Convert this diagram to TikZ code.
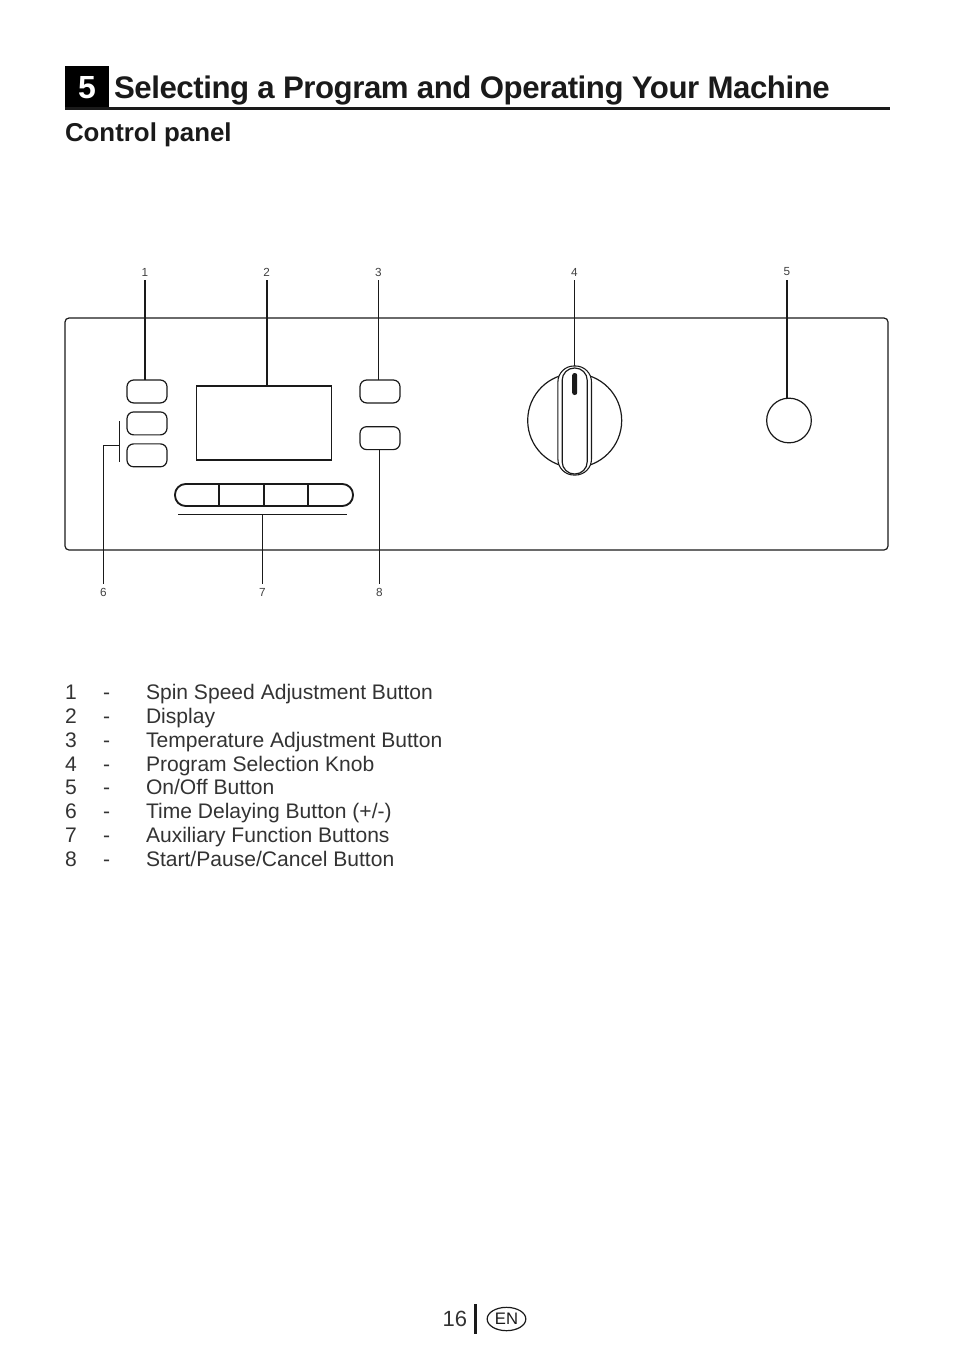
\documentclass[tikz,border=0pt]{standalone}
\usepackage{fontspec}
\setmainfont{Liberation Sans}
\newfontfamily\tightfont[LetterSpace=-1.4]{Liberation Sans}
\usepackage{xcolor}
\usetikzlibrary{positioning,shapes.geometric}
\definecolor{PanelInk}{HTML}{1A1A1A}

\begin{document}
\begin{tikzpicture}[x=0.75pt, y=-0.75pt,
                    every node/.style={inner sep=0pt, outer sep=0pt, text=PanelInk},
                    every path/.style={draw=PanelInk, line width=0.8pt},
                    heading/.style={anchor=base west, font=\tightfont\bfseries\fontsize{23.4}{28}\selectfont},
                    subheading/.style={anchor=base west, font=\bfseries\fontsize{19.4}{23}\selectfont},
                    tag/.style={inner sep=3pt, font=\fontsize{8.8}{10}\selectfont, text=black!75},
                    pushbtn/.style={draw, line width=0.9pt, rounded corners=5pt,
                                    minimum width=30pt, minimum height=17.2pt},
                    legend/.style={anchor=base west, text=black!80, font=\fontsize{15.8}{19}\selectfont}]
\useasboundingbox[draw=none] (0,0) rectangle (954,1354);
% heading
\node[minimum width=33pt, minimum height=32.5pt, fill=black, draw=none, anchor=north west,
      text=white, font=\bfseries\fontsize{24}{28}\selectfont] (secbox) at (65,65.5) {5};
\node[heading] (title) at (114,98) {Selecting a Program and Operating Your Machine};
\node[subheading] (subtitle) at (65,141) {Control panel};
\coordinate (ruleend) at (890,108);
\draw[line width=2.2pt] (secbox.south west) -- (secbox.south west -| ruleend);
% panel
\node[draw, line width=0.9pt, rounded corners=3pt, anchor=north west,
      minimum width=617.25pt, minimum height=174pt] (panel) at (65,318) {};
\node[pushbtn, anchor=north west] (btnspin) at (127,380) {};
\node[pushbtn, below=6.75pt of btnspin] (btnplus) {};
\node[pushbtn, below=6.75pt of btnplus] (btnminus) {};
\node[draw, line width=1.1pt, anchor=north west, minimum width=101pt, minimum height=55.5pt] (display) at (196.7,386) {};
\node[pushbtn, anchor=north west] (btntemp) at (360,380) {};
\node[pushbtn, below=17.8pt of btntemp] (btnstart) {};
\node[draw, line width=1.4pt, rounded corners=8pt, anchor=north west,
      minimum width=133.5pt, minimum height=16.5pt] (auxbar) at (175,484) {};
\draw[line width=1.7pt] (219,484) -- (219,506);
\foreach \x in {264,308}
  \draw[line width=1.3pt] (\x,484) -- (\x,506);
% knob
\node[draw, circle, line width=0.9pt, minimum size=70.5pt] (knob) at (574.7,420.5) {};
\node[draw, fill=white, line width=0.8pt, rounded corners=12pt,
      minimum width=25.2pt, minimum height=81.8pt] (grip) at (574.7,420.5) {};
\node[draw, line width=0.9pt, rounded corners=9.2pt,
      minimum width=18.8pt, minimum height=79.5pt] (gripin) at (574.7,421) {};
\node[fill=PanelInk, draw=none, rounded corners=1.8pt, minimum width=3.8pt, minimum height=16.5pt,
      anchor=north] (slot) at (574.7,373) {};
\node[draw, circle, line width=0.9pt, minimum size=33.5pt] (power) at (789,420.5) {};
% callout numbers
\node[tag] (lblone) at (145,272) {1};
\node[tag] (lbltwo) at (266.7,272) {2};
\node[tag] (lblthree) at (378.5,272) {3};
\node[tag] (lblfour) at (574.5,272) {4};
\node[tag] (lblfive) at (787,272) {5};
\node[tag] (lblsix) at (103.5,592) {6};
\node[tag] (lblseven) at (262.5,592) {7};
\node[tag] (lbleight) at (379.5,592) {8};
\draw[line width=1.3pt] (lblone.south) -- (lblone.south |- btnspin.north);
\draw[line width=1.3pt] (lbltwo.south) -- (lbltwo.south |- display.north);
\draw (lblthree.south) -- (lblthree.south |- btntemp.north);
\draw (lblfour.south) -- (lblfour.south |- grip.north);
\draw[line width=1pt] (lblfive.south) -- (lblfive.south |- power.north);
\coordinate (sixtop) at (119.5,421);
\coordinate (sixbot) at (119.5,462);
\coordinate (sixmid) at (119.5,445.5);
\coordinate (sevenleft) at (178,514.5);
\coordinate (sevenright) at (347,514.5);
\draw (sixtop) -- (sixbot);
\draw (lblsix.north) |- (sixmid);
\draw (sevenleft) -- (sevenright);
\draw (lblseven.north) -- (lblseven.north |- sevenleft);
\draw (lbleight.north) -- (lbleight.north |- btnstart.south);
% legend
\foreach \n/\t/\y in {1/{Spin Speed Adjustment Button}/699, 2/{Display}/723, 3/{Temperature Adjustment Button}/747,
                      4/{Program Selection Knob}/771, 5/{On/Off Button}/794, 6/{Time Delaying Button (+/-)}/818,
                      7/{Auxiliary Function Buttons}/842, 8/{Start/Pause/Cancel Button}/866} {
  \node[legend] (num\n) at (65,\y) {\n};
  \node[legend] (dash\n) at (103,\y) {-};
  \node[legend] (text\n) at (146,\y) {\t};
}
% page number
\node[anchor=base east, text=black!80, font=\fontsize{16.5}{19}\selectfont] (pageno) at (467,1326) {16};
\node[fill=PanelInk, draw=none, minimum width=2.4pt, minimum height=22.5pt] (pagebar) at (475.5,1319) {};
\node[draw, ellipse, line width=0.9pt, minimum width=29pt, minimum height=17.5pt,
      font=\fontsize{12.5}{14}\selectfont] (lang) at (506.5,1319) {EN};
\end{tikzpicture}
\end{document}
